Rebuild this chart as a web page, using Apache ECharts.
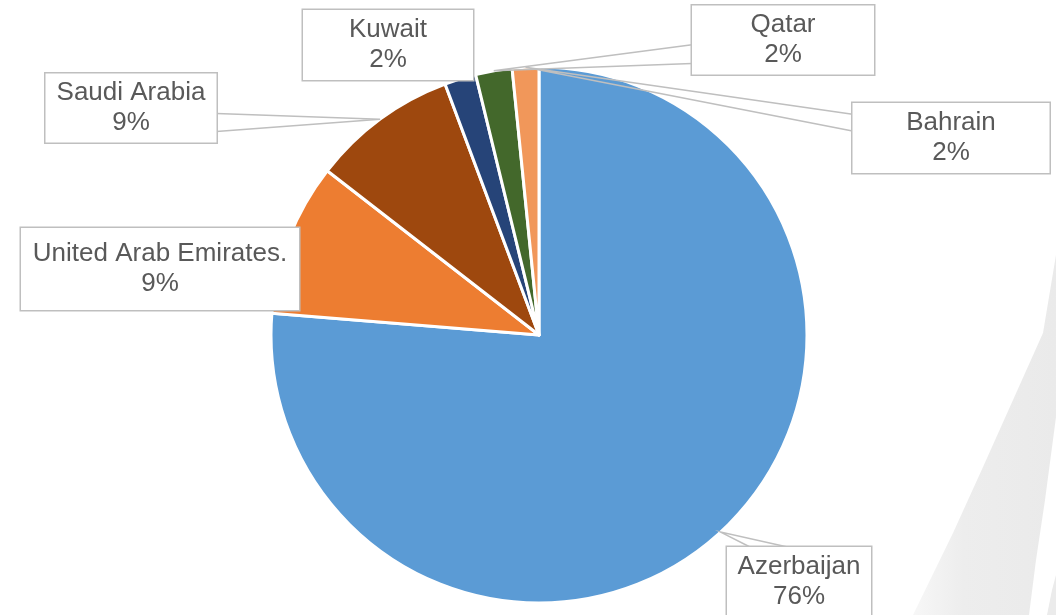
<!DOCTYPE html>
<html>
<head>
<meta charset="utf-8">
<script src="https://cdn.jsdelivr.net/npm/echarts@6/dist/echarts.min.js"></script>
<style>
  html, body { margin: 0; padding: 0; background: #fff; }
  #chart { width: 1056px; height: 615px; }
</style>
</head>
<body>
<div id="chart"></div>
<script>
// data (share in %)
const countries = ['Azerbaijan', 'United Arab Emirates.', 'Saudi Arabia', 'Kuwait', 'Qatar', 'Bahrain']
const shares = [76.3, 9.2, 8.8, 1.9, 2.2, 1.6]
const colors = ['#5B9BD5', '#ED7D31', '#9E480E', '#264478', '#43682B', '#F1975A']

// callout boxes: centre x, centre y, width, height
const boxes = [
  [799, 582, 144, 70],
  [160, 269, 278, 82],
  [131, 108, 171, 69],
  [388, 45, 170, 70],
  [783, 40, 182, 69],
  [951, 138, 197, 70]
]
// which box edge the callout pointer joins, and where along it (fractions)
const pointers = [
  ['top', 0.16, 0.42],
  null,
  ['right', 0.58, 0.84],
  null,
  ['left', 0.57, 0.84],
  ['left', 0.16, 0.4]
]

// faint background swoosh on the right
const swooshA = [[1056, 255], [1043, 333], [1013, 400], [983, 467], [953, 533], [913, 615],
  [1029, 615], [1036, 560], [1045, 500], [1056, 417]]
const swooshB = [[1047, 615], [1052, 590], [1056, 575], [1056, 615]]

const chart = echarts.init(document.getElementById('chart'))

const sliceData = countries.map((name, i) => ({
  name: name,
  value: shares[i],
  itemStyle: { color: colors[i] }
}))

// same values again, invisible slices, only to carry the callouts above the pie
const calloutData = countries.map((name, i) => ({
  name: name,
  value: shares[i],
  label: {
    width: boxes[i][2],
    padding: [(boxes[i][3] - 60) / 2, 0, (boxes[i][3] - 60) / 2, 0]
  },
  labelLine: { show: pointers[i] != null }
}))

// outer mid point of a slice, taken from the pie layout echarts computed
function sliceTip(i) {
  const lay = chart.getModel().getSeriesByIndex(1).getData().getItemLayout(i)
  const mid = (lay.startAngle + lay.endAngle) / 2
  return [lay.cx + lay.r * Math.cos(mid), lay.cy + lay.r * Math.sin(mid)]
}

chart.setOption({
  animation: false,
  backgroundColor: '#fff',
  graphic: [
    {
      type: 'polygon', z: -10, shape: { points: swooshA },
      style: {
        fill: {
          type: 'linear', x: 0, y: 0, x2: 1, y2: 0,
          colorStops: [{ offset: 0, color: '#F7F7F7' }, { offset: 0.35, color: '#EDEDED' }, { offset: 1, color: '#EAEAEA' }]
        }
      }
    },
    { type: 'polygon', z: -10, shape: { points: swooshB }, style: { fill: '#EBEBEB' } }
  ],
  series: [
    {
      type: 'pie',
      z: 2,
      center: [539, 335],
      radius: 268,
      startAngle: 90,
      clockwise: true,
      data: sliceData,
      itemStyle: {
        borderColor: '#fff',
        borderWidth: 3
      },
      label: { show: false },
      labelLine: { show: false },
      emphasis: { disabled: true }
    },
    {
      type: 'pie',
      z: 4,
      silent: true,
      center: [539, 335],
      radius: 268,
      startAngle: 90,
      clockwise: true,
      data: calloutData,
      itemStyle: {
        color: 'transparent',
        borderWidth: 0
      },
      label: {
        show: true,
        formatter: p => p.name + '\n' + Math.round(p.percent) + '%',
        fontFamily: '"Liberation Sans", Arial, sans-serif',
        fontSize: 26,
        lineHeight: 30,
        color: '#595959',
        align: 'center',
        backgroundColor: '#fff',
        borderColor: '#BFBFBF',
        borderWidth: 1.5
      },
      labelLine: {
        show: true,
        length: 10,
        length2: 10,
        lineStyle: { color: '#BFBFBF', width: 1.5 }
      },
      labelLayout: function (params) {
        const i = params.dataIndex
        const b = boxes[i]
        const res = { x: b[0], y: b[1], align: 'center', verticalAlign: 'middle' }
        const ptr = pointers[i]
        if (ptr) {
          const tip = sliceTip(i)
          const left = b[0] - b[2] / 2
          const top = b[1] - b[3] / 2
          let a, c
          if (ptr[0] === 'top') {
            a = [left + b[2] * ptr[1], top]
            c = [left + b[2] * ptr[2], top]
          } else {
            const ex = ptr[0] === 'left' ? left : left + b[2]
            a = [ex, top + b[3] * ptr[1]]
            c = [ex, top + b[3] * ptr[2]]
          }
          res.labelLinePoints = [a, tip, c]
        }
        return res
      },
      emphasis: { disabled: true }
    }
  ]
})
</script>
</body>
</html>
